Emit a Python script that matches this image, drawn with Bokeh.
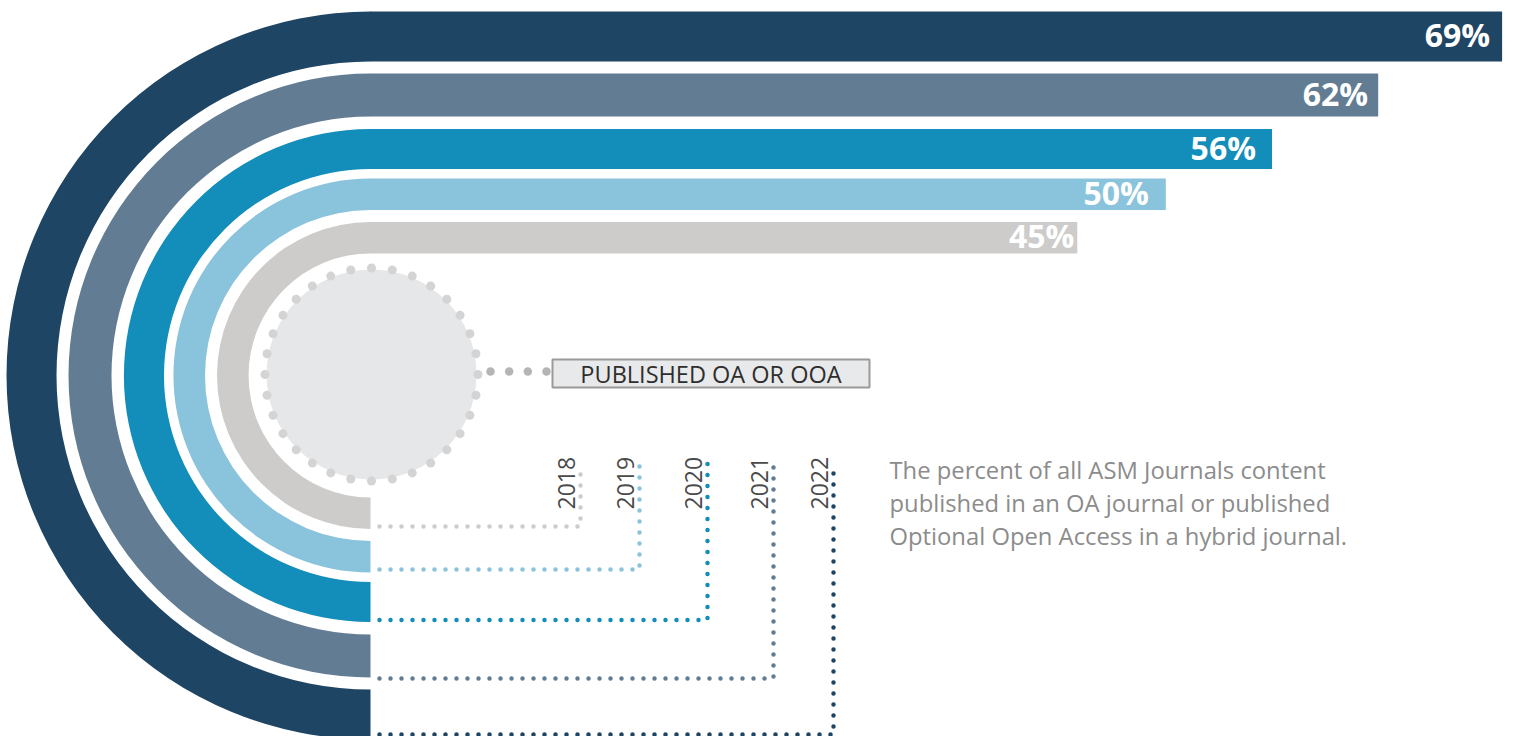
import numpy as np
from bokeh.plotting import figure
from bokeh.models import Range1d, ColumnDataSource
from bokeh.core.properties import value
from bokeh.embed import file_html
from bokeh.resources import INLINE

# ---------------- data ----------------
years = ["2018", "2019", "2020", "2021", "2022"]
values = [45, 50, 56, 62, 69]
band_colors = ["#CDCCCA", "#8AC3DC", "#138DBA", "#627D93", "#1F4565"]
leader_colors = ["#CDCCCA", "#8AC3DC", "#138DBA", "#627D93", "#1F4565"]
callout_label = "PUBLISHED OA OR OOA"
description = [
    "The percent of all ASM Journals content",
    "published in an OA journal or published",
    "Optional Open Access in a hybrid journal.",
]

# ---------------- layout (screen pixels, y measured downward) ----------------
W, H = 1505, 736
CX, CY = 370, 375
outer_r = [153.5, 197, 246.5, 302, 364]
inner_r = [122, 165.5, 206.5, 259, 314]
X0, PX_PER_PCT = 280.3, 17.7
label_pad = [3, 17, 16, 10, 12]
leader_x = [580, 639, 707, 773, 833]
leader_y = [526, 569, 619.5, 678, 734]
leader_top = 463
leader_start = 379
CIRC_X, CIRC_Y, CIRC_R = 371, 374, 106.5

p = figure(width=W, height=H,
           x_range=Range1d(0, W), y_range=Range1d(-H, 0),
           x_axis_type=None, y_axis_type=None,
           toolbar_location=None, output_backend="svg",
           min_border=0, outline_line_color=None,
           background_fill_color="white", border_fill_color="white")

ends = [X0 + PX_PER_PCT * v for v in values]
src = ColumnDataSource(dict(
    year=years, value=values, label=[f"{v}%" for v in values],
    color=band_colors, outer=outer_r, inner=inner_r, end=ends,
    top=[-(CY - o) for o in outer_r], bottom=[-(CY - i) for i in inner_r],
    lx=[e - pad for e, pad in zip(ends, label_pad)],
    ly=[-(CY - (o + i) / 2) + 2 for o, i in zip(outer_r, inner_r)],
))

# semicircular track part
p.annular_wedge(x=CX, y=-CY, inner_radius="inner", outer_radius="outer",
                start_angle=np.pi / 2, end_angle=3 * np.pi / 2, direction="anticlock",
                fill_color="color", line_color=None, source=src)
# straight bar (value)
p.quad(left=CX - 0.5, right="end", top="top", bottom="bottom",
       fill_color="color", line_color=None, source=src)

p.text(x="lx", y="ly", text="label", source=src,
       text_align="right", text_baseline="middle",
       text_font=value("Open Sans"), text_font_style="bold",
       text_font_size="32px", text_color="white")

# central dotted circle
p.circle(x=[CIRC_X], y=[-CIRC_Y], radius=CIRC_R - 1.5, fill_color="#E6E7E8", line_color=None)
ang = np.arange(32) * 2 * np.pi / 32
p.scatter(x=CIRC_X + CIRC_R * np.cos(ang), y=-CIRC_Y + CIRC_R * np.sin(ang),
          size=9, fill_color="#D4D4D4", line_color=None)

# connector to callout
p.scatter(x=np.linspace(490, 546, 4), y=[-371] * 4, size=8.5,
          fill_color="#B5B5B5", line_color=None)
p.quad(left=552, right=869, top=-359, bottom=-387,
       fill_color="#E8E9EA", line_color="#9A9A9A", line_width=2)
p.text(x=[710.5], y=[-373.3], text=[callout_label], text_align="center",
       text_baseline="middle", text_font=value("Open Sans"),
       text_font_size="23.5px", text_color="#2E2E2E")

# year leaders
for i in range(len(years)):
    p.line(x=[leader_start, leader_x[i], leader_x[i]],
           y=[-leader_y[i], -leader_y[i], -leader_top],
           line_color=leader_colors[i], line_width=4.5,
           line_dash="0 11", line_cap="round")

p.text(x=[lx - 14.5 for lx in leader_x], y=[-509] * len(years), text=years,
       angle=np.pi / 2, text_align="left", text_baseline="middle",
       text_font=value("Open Sans"), text_font_size="23px", text_color="#4A4A4A")

p.text(x=[889] * 3, y=[-469.6, -502.6, -535.6], text=description,
       text_align="left", text_baseline="middle",
       text_font=value("Open Sans"), text_font_size="23.8px", text_color="#8C8C8C")

open("out.html", "w").write(file_html(p, INLINE))
